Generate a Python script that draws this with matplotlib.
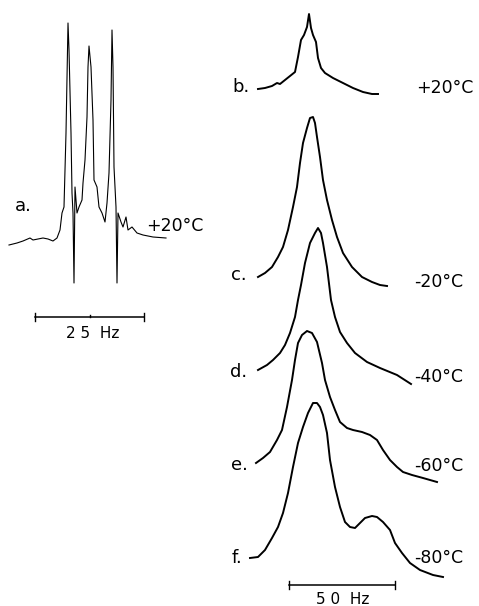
import numpy as np
import matplotlib.pyplot as plt

# Traces (page pixel coordinates)
a_x = [9, 17, 23, 30, 33, 38, 43, 48, 53, 57, 60, 62, 64, 66, 68, 69, 71, 72, 73, 74,
       75, 77, 79, 82, 83, 85, 87, 88, 89, 91, 93, 94, 97, 99, 102, 105, 107, 109, 111,
       112, 113, 114, 116, 117, 118, 121, 123, 126, 128, 132, 137, 143, 153, 166]
a_y = [245, 243, 241, 238, 240, 239, 238, 239, 241, 238, 230, 213, 207, 133, 23, 50, 133,
       193, 213, 283, 187, 213, 207, 200, 183, 160, 117, 67, 46, 67, 120, 180, 187, 207,
       213, 222, 203, 173, 100, 30, 67, 167, 207, 283, 213, 222, 227, 217, 230, 227, 233,
       235, 237, 238]

b_x = [258, 265, 272, 277, 280, 285, 290, 295, 298, 301, 304, 307, 309, 311, 313, 316,
       318, 321, 325, 333, 343, 353, 363, 372, 378]
b_y = [89, 88, 86, 83, 84, 80, 76, 72, 57, 40, 35, 27, 14, 28, 35, 42, 58, 68, 73, 78,
       83, 88, 92, 94, 94]

c_x = [258, 265, 272, 278, 283, 288, 293, 297, 300, 303, 307, 310, 313, 315, 317, 320,
       323, 327, 332, 337, 343, 352, 362, 372, 380, 387]
c_y = [277, 273, 267, 257, 247, 230, 207, 187, 163, 143, 128, 118, 117, 123, 137, 157,
       180, 200, 220, 237, 253, 267, 277, 282, 285, 286]

d_x = [258, 267, 273, 280, 285, 290, 295, 298, 301, 305, 310, 315, 318, 321, 323, 327,
       331, 335, 340, 347, 355, 367, 380, 397, 411]
d_y = [370, 365, 360, 353, 345, 333, 317, 300, 285, 263, 243, 233, 228, 233, 243, 267,
       300, 317, 332, 343, 353, 362, 368, 375, 384]

e_x = [256, 263, 270, 277, 282, 287, 292, 295, 298, 302, 307, 312, 317, 322, 325, 330,
       335, 340, 347, 353, 362, 370, 377, 383, 390, 397, 403, 412, 423, 437]
e_y = [463, 458, 452, 440, 430, 407, 380, 360, 343, 335, 331, 333, 342, 363, 380, 397,
       410, 422, 428, 430, 432, 435, 440, 450, 460, 467, 472, 475, 478, 482]

f_x = [250, 258, 265, 272, 278, 283, 288, 293, 298, 303, 308, 313, 317, 320, 323, 327,
       330, 335, 340, 345, 350, 355, 360, 365, 372, 377, 383, 390, 395, 402, 410, 420,
       433, 443]
f_y = [558, 557, 550, 538, 527, 513, 493, 467, 443, 427, 413, 403, 403, 407, 415, 433,
       460, 487, 507, 522, 527, 528, 523, 518, 516, 517, 522, 530, 543, 553, 563, 570,
       575, 577]

letters = ["a.", "b.", "c.", "d.", "e.", "f."]
temps = ["+20°C", "+20°C", "-20°C", "-40°C", "-60°C", "-80°C"]
scale_labels = ["2 5  Hz", "5 0  Hz"]

fig = plt.figure(figsize=(4.79, 6.06), dpi=100)
ax = fig.add_axes([0, 0, 1, 1])
ax.set_xlim(0, 479)
ax.set_ylim(606, 0)
ax.axis('off')

ax.plot(a_x, a_y, color='black', lw=0.8)
for xs, ys in [(b_x, b_y), (c_x, c_y), (d_x, d_y), (e_x, e_y), (f_x, f_y)]:
    ax.plot(xs, ys, color='black', lw=1.4)

# letter labels and temperatures
lab_pos = [(15, 206), (232, 87), (231, 275), (230, 372), (231, 465), (232, 558)]
tmp_pos = [(146, 226), (416, 88), (414, 282), (414, 377), (414, 466), (414, 558)]
for s, (x, y) in zip(letters, lab_pos):
    ax.text(x, y, s, fontsize=13, ha='left', va='center')
for s, (x, y) in zip(temps, tmp_pos):
    ax.text(x, y, s, fontsize=12.5, ha='left', va='center')

# scale bars
def scalebar(x0, x1, y, mid=None):
    ax.plot([x0, x1], [y, y], color='black', lw=1.1)
    for xx in (x0, x1):
        ax.plot([xx, xx], [y - 4, y + 4], color='black', lw=1.0)
    if mid is not None:
        ax.plot([mid, mid], [y - 2, y], color='black', lw=1.0)

scalebar(35, 144, 317, mid=90)
scalebar(289, 395, 585)
ax.text(93, 333, scale_labels[0], fontsize=11, ha='center', va='center')
ax.text(343, 600, scale_labels[1], fontsize=11, ha='center', va='center')

fig.savefig('out.png', dpi=100)
